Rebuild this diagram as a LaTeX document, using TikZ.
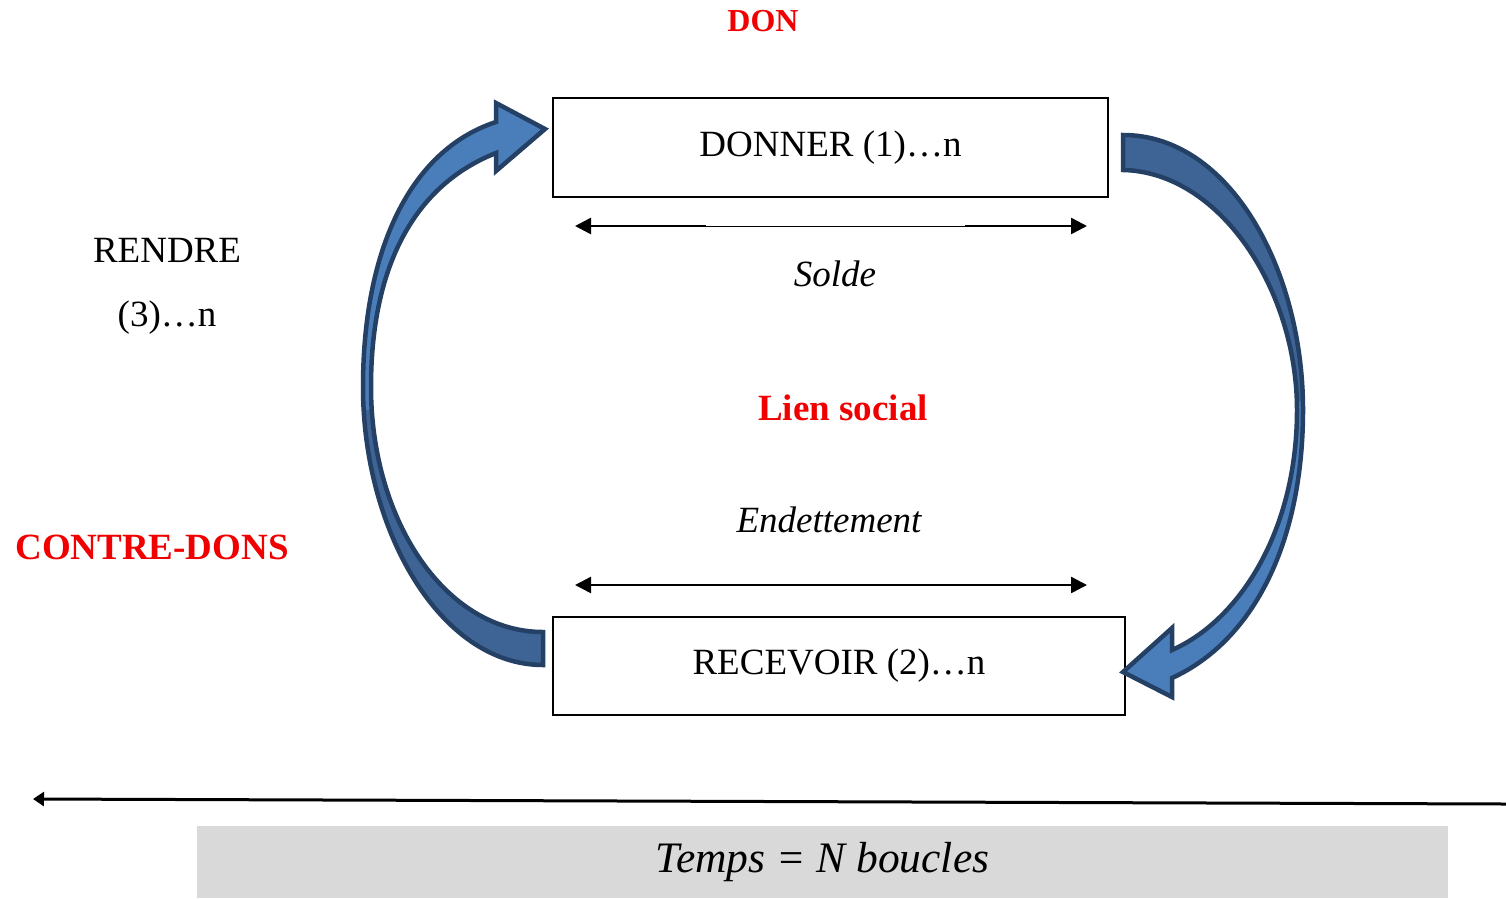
\documentclass[tikz,border=0pt]{standalone}
\usepackage{fontspec}
\setmainfont{Liberation Serif}
\usetikzlibrary{arrows.meta}
\definecolor{arrowline}{RGB}{36,64,100}
\definecolor{arrowlight}{RGB}{74,126,187}
\definecolor{arrowdark}{RGB}{62,100,150}
\definecolor{boxgray}{RGB}{217,217,217}
\definecolor{textred}{RGB}{240,0,0}
\tikzset{bigtri/.tip={Triangle[length=16pt,width=16pt]}}
\begin{document}
\begin{tikzpicture}[x=1pt,y=-1pt,
  stepbox/.style={draw, line width=1.8pt, inner sep=0pt, font=\fontsize{37}{44}\selectfont},
  plainlabel/.style={font=\fontsize{37}{44}\selectfont},
  itlabel/.style={font=\fontsize{37}{44}\selectfont\itshape},
  redlabel/.style={font=\fontsize{37}{44}\selectfont\bfseries, text=textred},
  curvedfill/.style={draw=arrowline, line width=4.5pt, line join=miter}]
\useasboundingbox (0,0) rectangle (1506,898);

% boxes
\node[stepbox, minimum width=555pt, minimum height=99pt] (donner) at (830.5,147.5) {\raisebox{-2pt}{DONNER (1)…n}};
\node[stepbox, minimum width=572pt, minimum height=98pt] (recevoir) at (839,666) {\raisebox{-2pt}{RECEVOIR (2)…n}};

% labels
\node[redlabel, font=\fontsize{32}{38}\selectfont\bfseries] (don) at (763,21) {DON};
\node[plainlabel] (rendre) at (167,250) {RENDRE};
\node[plainlabel] (rendren) at (167,318) {(3)…n};
\node[redlabel] (contre) at (152,547) {CONTRE-DONS};
\node[redlabel] (lien) at (843,408) {Lien social};
\node[itlabel] (solde) at (835,274) {Solde};
\node[itlabel] (endet) at (829,520) {Endettement};

% time bar
\node[fill=boxgray, minimum width=1251pt, minimum height=72pt, inner sep=0pt,
      font=\fontsize{43.5}{50}\selectfont\itshape] (temps) at (822.5,862) {\raisebox{-3pt}{Temps = N boucles}};

% double arrows
\coordinate (s1) at (575,226);
\coordinate (s1a) at (706,226);
\coordinate (s2a) at (965,226);
\coordinate (s2) at (1087,226);
\draw[line width=1pt] (s1a) -- (s2a);
\draw[line width=2.5pt, {bigtri}-] (s1) -- (s1a);
\draw[line width=2.5pt, -{bigtri}] (s2a) -- (s2);

\coordinate (e1) at (575,585);
\coordinate (e2) at (1087,585);
\draw[line width=2.5pt, {bigtri}-{bigtri}] (e1) -- (e2);

% time arrow
\coordinate (t1) at (1506,804);
\coordinate (t2) at (33,799);
\draw[line width=3pt, -{Triangle[length=11pt,width=14pt]}] (t1) -- (t2);

% left curved arrow
\def\leftpath{(543,665) .. controls (440,665) and (363,530) .. (363,387)
  .. controls (363,250) and (410,150) .. (496,122)
  -- (496,103) -- (545,129) -- (496,171) -- (496,153)
  .. controls (415,185) and (371,265) .. (371,387)
  .. controls (371,520) and (445,632) .. (543,632) -- cycle}
\fill[arrowlight] \leftpath;
\begin{scope}
  \clip (300,410) rectangle (600,700);
  \fill[arrowdark] \leftpath;
\end{scope}
\draw[curvedfill] \leftpath;

% right curved arrow
\def\rightpath{(1123,135) .. controls (1230,135) and (1303,270) .. (1303,410)
  .. controls (1303,540) and (1255,640) .. (1172,678)
  -- (1172,697) -- (1123,672) -- (1172,628) -- (1172,650)
  .. controls (1240,620) and (1297,530) .. (1297,410)
  .. controls (1297,290) and (1220,172) .. (1123,170) -- cycle}
\fill[arrowlight] \rightpath;
\begin{scope}
  \clip (1100,100) rectangle (1350,400);
  \fill[arrowdark] \rightpath;
\end{scope}
\draw[curvedfill] \rightpath;
\end{tikzpicture}
\end{document}
